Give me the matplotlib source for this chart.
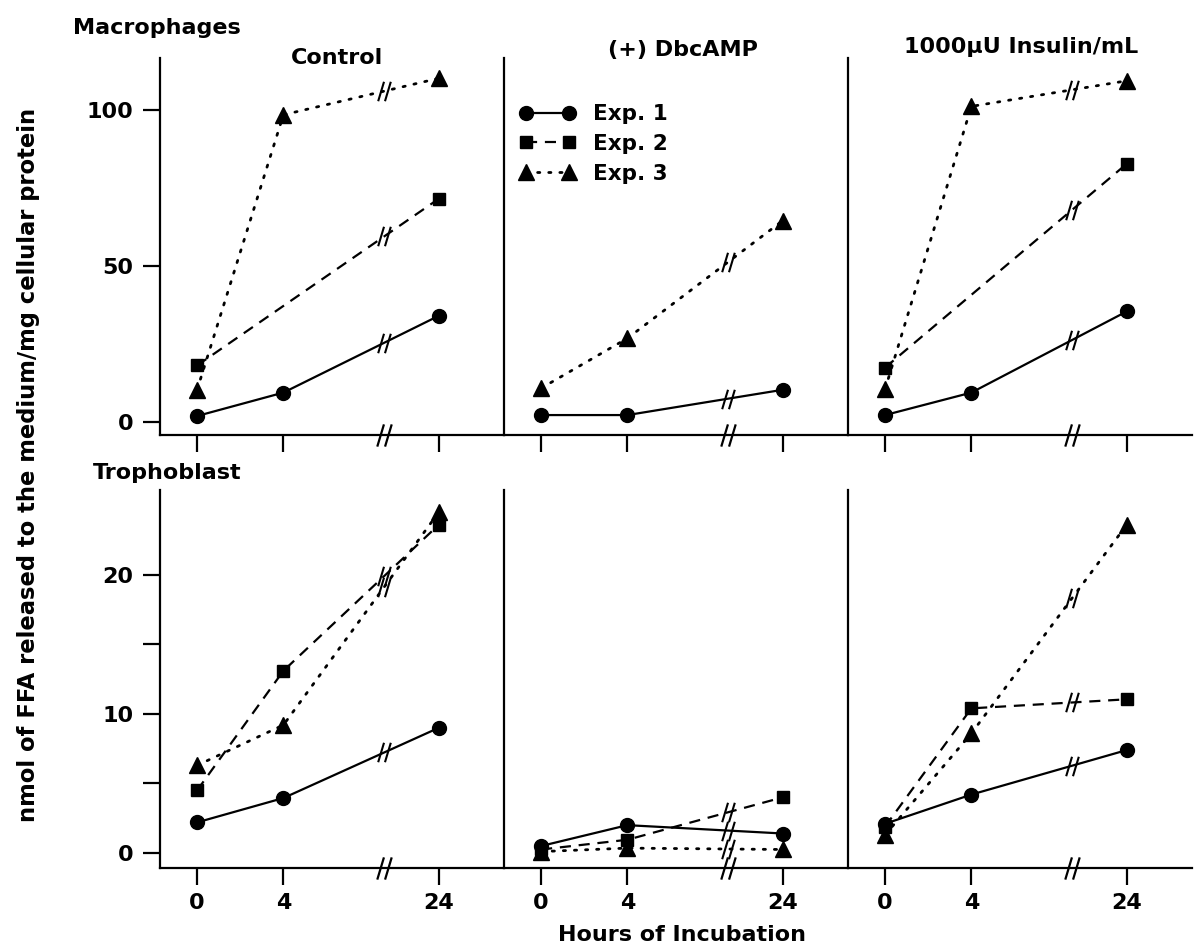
import numpy as np
import matplotlib.pyplot as plt
from matplotlib.path import Path

plt.rcParams['font.family'] = ['DejaVu Sans']
plt.rcParams['font.weight'] = 'bold'

# hours of incubation (x), broken axis between 4 and 24
hours = [0, 4, 24]
brk_hour = 17

panel_titles = ['Control', '(+) DbcAMP', '1000\u03bcU Insulin/mL']
exp_labels = ['Exp. 1', 'Exp. 2', 'Exp. 3']

# Macrophages (nmol FFA / mg protein); None = not measured
mac_ctrl_exp1 = [1.8, 9.3, 33.9]
mac_ctrl_exp2 = [18.0, None, 71.4]
mac_ctrl_exp3 = [10.2, 98.3, 110.0]
mac_dbc_exp1 = [2.1, 2.1, 10.2]
mac_dbc_exp2 = [None, None, None]
mac_dbc_exp3 = [10.7, 26.7, 64.4]
mac_ins_exp1 = [2.1, 9.3, 35.3]
mac_ins_exp2 = [17.3, None, 82.6]
mac_ins_exp3 = [10.4, 101.0, 109.2]

# Trophoblast
tro_ctrl_exp1 = [2.2, 3.95, 9.0]
tro_ctrl_exp2 = [4.5, 13.1, 23.6]
tro_ctrl_exp3 = [6.3, 9.2, 24.5]
tro_dbc_exp1 = [0.5, 2.0, 1.4]
tro_dbc_exp2 = [0.25, 0.95, 4.0]
tro_dbc_exp3 = [0.1, 0.35, 0.25]
tro_ins_exp1 = [2.1, 4.2, 7.4]
tro_ins_exp2 = [1.9, 10.4, 11.05]
tro_ins_exp3 = [1.3, 8.6, 23.6]

rows = [
    [[mac_ctrl_exp1, mac_ctrl_exp2, mac_ctrl_exp3],
     [mac_dbc_exp1, mac_dbc_exp2, mac_dbc_exp3],
     [mac_ins_exp1, mac_ins_exp2, mac_ins_exp3]],
    [[tro_ctrl_exp1, tro_ctrl_exp2, tro_ctrl_exp3],
     [tro_dbc_exp1, tro_dbc_exp2, tro_dbc_exp3],
     [tro_ins_exp1, tro_ins_exp2, tro_ins_exp3]],
]


def fwd(h):
    h = np.asarray(h, float)
    return np.where(h <= 4, h / 4, 1 + (h - 4) * 0.09)


def inv(p):
    p = np.asarray(p, float)
    return np.where(p <= 1, p * 4, 4 + (p - 1) / 0.09)


# "//" break marker
brk = Path([(-0.65, -1), (-0.05, 1), (0.05, -1), (0.65, 1)],
           [Path.MOVETO, Path.LINETO, Path.MOVETO, Path.LINETO])

styles = [
    dict(ls='-', lw=1.6, marker='o', ms=10),
    dict(ls=(0, (5, 3.5)), lw=1.6, marker='s', ms=9),
    dict(ls=(0, (0.8, 3.2)), lw=2.0, marker='^', ms=11, dash_capstyle='round'),
]

fig = plt.figure(figsize=(11.94, 9.48), dpi=100)

lefts = [0.134, 0.4221, 0.7102]
width = 0.2881
row_box = [(0.5411, 0.3977), (0.0844, 0.3987)]
ylims = [(-4.3, 116.5), (-1.08, 26.1)]

handles = []
axes = []
for r in range(2):
    for c in range(3):
        ax = fig.add_axes([lefts[c], row_box[r][0], width, row_box[r][1]])
        axes.append(ax)
        ax.set_xscale('function', functions=(fwd, inv))
        ax.set_xlim(-1.72, 32.4)
        ax.set_ylim(*ylims[r])
        for s in ['top', 'right']:
            ax.spines[s].set_visible(False)
        for s in ['left', 'bottom']:
            ax.spines[s].set_linewidth(1.6)
        ax.set_xticks(hours)
        ax.set_xticklabels([str(h) for h in hours])
        ax.tick_params(axis='x', length=12, width=1.6, labelsize=16, pad=6)
        ax.minorticks_off()
        if r == 0:
            ax.tick_params(axis='x', labelbottom=False)
        if c == 0:
            if r == 0:
                ax.set_yticks([0, 50, 100])
            else:
                ax.set_yticks([0, 5, 10, 15, 20], ['0', '', '10', '', '20'])
            ax.tick_params(axis='y', length=12, width=1.6, labelsize=16, pad=7)
        else:
            ax.tick_params(axis='y', left=False, labelleft=False)

        for k, vals in enumerate(rows[r][c]):
            pts = [(h, v) for h, v in zip(hours, vals) if v is not None]
            if not pts:
                continue
            xs = [p[0] for p in pts]
            ys = [p[1] for p in pts]
            ln, = ax.plot(xs, ys, color='black', mfc='black', mec='black',
                          clip_on=False, **styles[k])
            if r == 0 and c == 0:
                handles.append(ln)
            yb = np.interp(fwd(brk_hour), fwd(xs), ys)
            ax.plot([brk_hour], [yb], ls='none', marker=brk, ms=14,
                    mec='black', mfc='none', mew=1.5)
        # axis break on the x axis
        ax.plot([brk_hour], [ylims[r][0]], ls='none', marker=brk, ms=16,
                mec='black', mfc='none', mew=1.6, clip_on=False)

# panel titles
title_pos = [(0.515, 1.0), (0.52, 1.02), (0.503, 1.03)]
for c in range(3):
    axes[c].text(title_pos[c][0], title_pos[c][1], panel_titles[c],
                 transform=axes[c].transAxes, ha='center', va='center',
                 fontsize=16, fontweight='bold')

axes[1].legend(handles, exp_labels, loc='upper left',
               bbox_to_anchor=(0.02, 0.9), frameon=False, numpoints=2,
               handlelength=2.6, handletextpad=0.8, labelspacing=0.45,
               borderaxespad=0, prop={'size': 15.5, 'weight': 'bold'})

fig.text(73 / 1194, 1 - 28 / 948, 'Macrophages', ha='left', va='center',
         fontsize=16, fontweight='bold')
fig.text(93 / 1194, 1 - 473 / 948, 'Trophoblast', ha='left', va='center',
         fontsize=16, fontweight='bold')
fig.text(29 / 1194, 1 - 465 / 948,
         'nmol of FFA released to the medium/mg cellular protein',
         rotation=90, ha='center', va='center', fontsize=16.3, fontweight='bold')
fig.text(682 / 1194, 1 - 935 / 948, 'Hours of Incubation', ha='center',
         va='center', fontsize=16, fontweight='bold')

fig.savefig('out.png', dpi=100)
